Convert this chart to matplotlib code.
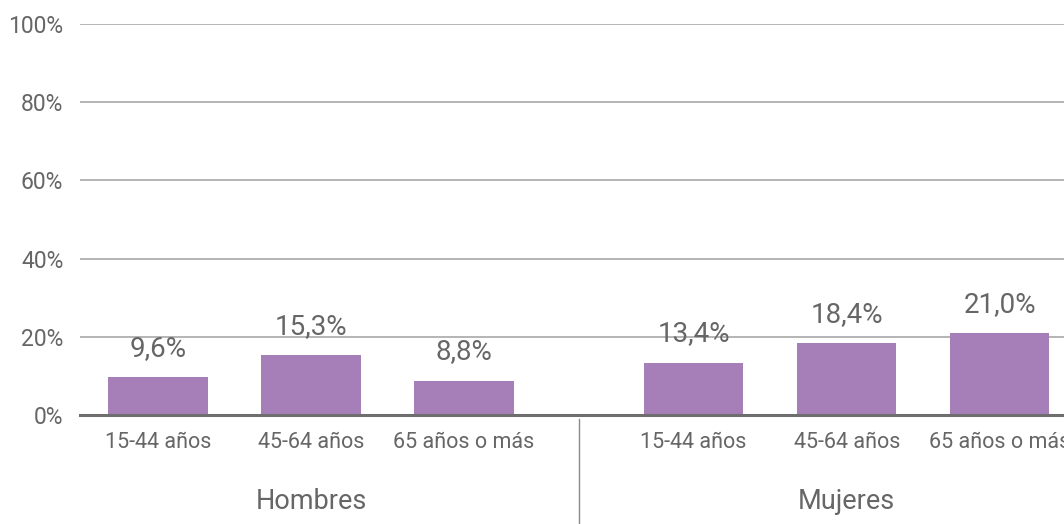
import matplotlib.pyplot as plt

# datos
grupos = ['Hombres', 'Mujeres']
edades = ['15-44 años', '45-64 años', '65 años o más']
hombres = [9.6, 15.3, 8.8]
mujeres = [13.4, 18.4, 21.0]
yticks = [0, 20, 40, 60, 80, 100]

# colores
MORADO = '#a67eb8'
GRIS_TXT = '#666666'
GRIS_LINEA = '#a0a0a0'

plt.rcParams['font.family'] = ['Roboto', 'DejaVu Sans']

fig = plt.figure(figsize=(10.64, 5.24), dpi=100)
ax = fig.add_axes([80 / 1064, 109 / 524, 1 - 80 / 1064, 391 / 524])

pos_h = [0, 1, 2]
pos_m = [3.5, 4.5, 5.5]
posiciones = pos_h + pos_m
valores = hombres + mujeres

ax.bar(posiciones, valores, width=0.65, color=MORADO, zorder=3)

for x, v in zip(posiciones, valores):
    ax.annotate(('%.1f%%' % v).replace('.', ','), (x, v), xytext=(0, 11),
                textcoords='offset points', ha='center', va='bottom',
                fontsize=20, color=GRIS_TXT)

ax.set_xlim(-0.51, 5.92)
ax.set_ylim(0, 100)
ax.set_yticks(yticks)
ax.set_yticklabels(['%d%%' % t for t in yticks])
ax.tick_params(axis='y', length=0, pad=12, labelsize=16.5, labelcolor=GRIS_TXT)
ax.tick_params(axis='x', length=0, pad=12, labelsize=15.5, labelcolor=GRIS_TXT)
ax.set_xticks(posiciones)
ax.set_xticklabels(edades + edades)

ax.grid(axis='y', color=GRIS_LINEA, linewidth=1.1, zorder=0)
for s in ['top', 'right', 'left']:
    ax.spines[s].set_visible(False)
ax.spines['bottom'].set_color('#6e6e6e')
ax.spines['bottom'].set_linewidth(2.2)
ax.spines['bottom'].set_zorder(4)

# nombres de grupo y separador
for nombre, p in zip(grupos, [pos_h[1], pos_m[1]]):
    ax.text(p, -0.22, nombre, transform=ax.get_xaxis_transform(),
            ha='center', va='center', fontsize=19.5, color=GRIS_TXT)

ax.plot([2.75, 2.75], [-0.01, -0.3], transform=ax.get_xaxis_transform(),
        color='#8a8a8a', linewidth=1, clip_on=False)

fig.savefig('out.png', dpi=100)
